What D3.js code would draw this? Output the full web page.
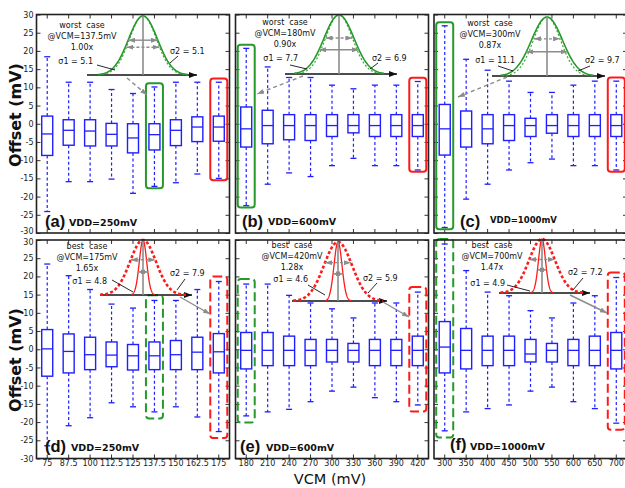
<!DOCTYPE html>
<html>
<head>
<meta charset="utf-8">
<script src="https://cdn.jsdelivr.net/npm/d3@7"></script>
<style>
  body { margin: 0; background: #fff; }
  svg { display: block; font-family: "DejaVu Sans", sans-serif; }
</style>
</head>
<body>
<div id="chart"></div>
<script>
// VCM categories for each VDD column
const vcm250 = ['75', '87.5', '100', '112.5', '125', '137.5', '150', '162.5', '175'];
const vcm600 = ['180', '210', '240', '270', '300', '330', '360', '390', '420'];
const vcm1000 = ['300', '350', '400', '450', '500', '550', '600', '650', '700'];

// box stats per VCM: [whisker high, q3, median, q1, whisker low] (mV)
const boxesA = [
  [18.4, 2.1, -2.8, -8.7, -24.1], [11.4, 1.1, -1.8, -5.9, -15.9], [11.4, 1.1, -2.0, -6.1, -15.9],
  [9.4, 0.1, -2.9, -6.1, -15.2], [8.3, 0.0, -3.9, -8.0, -19.1], [10.1, 0.0, -3.0, -7.2, -17.2],
  [11.4, 1.1, -1.8, -6.0, -16.2], [11.4, 1.9, -0.9, -4.9, -13.8], [11.4, 2.1, -0.9, -4.8, -15.0]
];
const boxesB = [
  [20.7, 4.6, -1.4, -6.4, -22.5], [15.6, 3.7, -0.5, -5.5, -16.6], [12.7, 2.5, -0.5, -4.4, -13.5],
  [12.7, 2.5, -0.5, -4.6, -14.5], [10.6, 2.5, -0.5, -3.5, -11.5], [9.6, 2.5, -0.5, -2.5, -9.5],
  [10.6, 2.5, -0.5, -3.5, -11.5], [10.6, 2.5, -0.5, -3.5, -11.5], [11.6, 2.5, -0.5, -3.5, -12.7]
];
const boxesC = [
  [26.9, 5.3, -1.4, -8.6, -28.5], [17.7, 3.5, -1.4, -6.4, -20.7], [14.7, 2.5, -1.4, -5.5, -16.6],
  [11.7, 2.5, -0.5, -4.6, -12.7], [8.6, 1.5, -0.5, -3.5, -10.7], [8.6, 2.5, -0.5, -2.6, -9.7],
  [10.6, 2.5, -0.5, -3.5, -11.5], [11.7, 2.5, -0.5, -3.5, -11.5], [11.7, 2.5, -0.5, -3.5, -12.7]
];
const boxesD = [
  [23.4, 5.4, 0.1, -7.4, -26.5], [20.2, 4.2, -0.6, -6.5, -21.0], [16.4, 3.3, -1.5, -5.6, -18.8],
  [12.4, 2.0, -1.6, -4.8, -14.7], [11.3, 1.3, -1.8, -5.7, -15.8], [13.4, 2.0, -1.8, -5.6, -17.2],
  [13.4, 2.4, -1.5, -5.6, -15.8], [16.4, 3.3, -0.8, -5.6, -18.6], [18.6, 4.3, -0.7, -6.5, -22.6]
];
const boxesE = [
  [17.9, 4.6, -0.3, -5.4, -18.3], [17.9, 4.6, -0.3, -4.5, -17.2], [14.8, 3.6, -0.3, -4.5, -16.5],
  [12.7, 2.7, -0.3, -4.5, -14.4], [11.1, 2.7, -0.3, -3.5, -11.5], [8.6, 1.6, -0.3, -3.5, -10.4],
  [12.7, 2.7, -0.3, -4.5, -13.3], [12.7, 2.7, -0.3, -4.5, -14.4], [15.7, 3.6, -0.3, -4.5, -15.3]
];
const boxesF = [
  [28.9, 7.6, 0.6, -6.5, -22.4], [21.6, 5.7, -0.3, -5.4, -17.2], [15.7, 3.6, -0.3, -4.5, -16.3],
  [14.7, 3.6, -0.3, -4.5, -15.3], [10.6, 2.7, -1.3, -3.5, -11.5], [8.6, 1.6, -0.3, -3.5, -10.4],
  [12.7, 2.7, -0.3, -4.5, -14.4], [14.7, 3.6, -0.3, -4.5, -16.3], [19.7, 4.6, -0.3, -5.4, -20.3]
];

const yTicks = [-30, -25, -20, -15, -10, -5, 0, 5, 10, 15, 20, 25, 30];

// panel labels and inset annotations
const panelTags = ['(a)', '(b)', '(c)', '(d)', '(e)', '(f)'];
const vddLabels = ['VDD=250mV', 'VDD=600mV', 'VDD=1000mV', 'VDD=250mV', 'VDD=600mV', 'VDD=1000mV'];
const caseLabels = ['worst  case', 'worst  case', 'worst  case', 'best  case', 'best  case', 'best  case'];
const caseVcm = ['@VCM=137.5mV', '@VCM=180mV', '@VCM=300mV', '@VCM=175mV', '@VCM=420mV', '@VCM=700mV'];
const ratios = ['1.00x', '0.90x', '0.87x', '1.65x', '1.28x', '1.47x'];
const sigma1 = [5.1, 7.7, 11.1, 4.8, 4.6, 4.9];
const sigma2 = [5.1, 6.9, 9.7, 7.9, 5.9, 7.2];
const greenIdx = [5, 0, 0, 5, 0, 0];
const redIdx = [8, 8, 8, 8, 8, 8];

const cats = [vcm250, vcm600, vcm1000];
const boxes = [boxesA, boxesB, boxesC, boxesD, boxesE, boxesF];

// layout (pixels)
const W = 625, H = 488;
const colX = [36.5, 235.5, 434], colW = 193;
const rowY = [14.5, 240], rowH = 218.5;
const tagPos = [[45, 227], [242, 227], [460, 227], [45, 452], [240, 452], [450, 450]];
const vddPos = [[69, 226, 9.5], [268, 225, 9.5], [490, 223, 8.5], [71, 451, 9.5], [266, 451, 9.5], [470, 450, 9.5]];

// inset gaussian sketches: cx/top/base of curve, display sigma px, extent (in sigmas),
// height fraction of sigma arrows, text position, sigma label + leader, pointer arrow
const insets = [
  { cx: 143, top: 16, base: 75, ax: [87, 197], sd: [14.5, 13.5], ext: [3.1, 3.3], hf: [0.59, 0.47], tx: 82, ty: 28,
    l1: [93, 64, 97, 65, 115, 70], l2: [170, 54, 178, 56, 170, 63], ptr: [127, 78, 147, 95] },
  { cx: 339, top: 15, base: 74, ax: [285, 397], sd: [15, 13.5], ext: [3.0, 3.3], hf: [0.41, 0.61], tx: 285, ty: 25,
    l1: [298, 61, 290, 65, 307, 69], l2: [372, 61, 378, 63, 370, 69], ptr: [303, 76, 257, 94] },
  { cx: 547, top: 17, base: 76, ax: [492, 605], sd: [15.5, 13.6], ext: [3.0, 3.3], hf: [0.41, 0.63], tx: 490, ty: 26,
    l1: [515, 63, 498, 66, 513, 71], l2: [585, 63, 590, 66, 578, 71], ptr: [507, 77, 458, 97] },
  { cx: 143, top: 240, base: 295, ax: [100, 192], sd: [3.7, 13], ext: [3.2, 3.3], hf: [0.42, 0.64], tx: 87, ty: 249,
    l1: [107, 284, 112, 280, 133, 292], l2: [170, 276, 185, 279, 177, 290], ptr: [180, 297, 210, 314] },
  { cx: 338, top: 242, base: 301, ax: [292, 387], sd: [4, 14], ext: [3.3, 3.2], hf: [0.46, 0.65], tx: 292, ty: 248,
    l1: [308, 282, 308, 285, 325, 295], l2: [363, 281, 377, 283, 368, 293], ptr: [383, 302, 409, 317] },
  { cx: 542, top: 239, base: 293, ax: [499, 590], sd: [3.5, 13], ext: [3.3, 3.2], hf: [0.43, 0.62], tx: 492, ty: 248,
    l1: [505, 286, 507, 285, 530, 291], l2: [568, 275, 583, 278, 573, 290], ptr: [570, 295, 607, 313] }
];

const blue = '#1f1fff', green = '#259a2a', red = '#ff1a1a', gray = '#8c8c8c', ink = '#222';

const svg = d3.select('#chart').append('svg').attr('width', W).attr('height', H);

// arrow heads
const defs = svg.append('defs');
[['arrBlack', '#111', 8, 6], ['arrGray', gray, 7, 5]].forEach(([id, c, l, w]) => {
  defs.append('marker')
    .attr('id', id).attr('markerUnits', 'userSpaceOnUse')
    .attr('markerWidth', l).attr('markerHeight', w)
    .attr('refX', l).attr('refY', w / 2)
    .attr('orient', 'auto-start-reverse')
    .append('path').attr('d', `M0,0 L${l},${w / 2} L0,${w} Z`).attr('fill', c);
});

function drawPanel(i) {
  const col = i % 3, row = Math.floor(i / 3);
  const x0 = colX[col], y0 = rowY[row];
  const x = d3.scaleBand().domain(cats[col]).range([x0, x0 + colW]);
  const y = d3.scaleLinear().domain([-30, 30]).range([y0 + rowH, y0]);
  const cx = d => x(d) + x.bandwidth() / 2;
  const g = svg.append('g');

  // axes with inward ticks on all four sides
  const fmt = d => String(d);
  const axes = [
    [d3.axisLeft(y).tickValues(yTicks).tickFormat(col === 0 ? fmt : ''), `translate(${x0},0)`, 3],
    [d3.axisRight(y).tickValues(yTicks).tickFormat(''), `translate(${x0 + colW},0)`, 3],
    [d3.axisBottom(x).tickFormat(row === 1 ? null : ''), `translate(0,${y0 + rowH})`, 2],
    [d3.axisTop(x).tickFormat(''), `translate(0,${y0})`, 3]
  ];
  axes.forEach(([ax, tr, p], k) => {
    const a = g.append('g').attr('transform', tr)
      .call(ax.tickSizeInner(-4).tickSizeOuter(0).tickPadding(p));
    a.select('.domain').remove();
    a.selectAll('line').attr('stroke', '#333');
    a.selectAll('text').attr('font-size', 8).attr('fill', ink).attr('font-family', '"DejaVu Sans", sans-serif');
    if (k === 0) {
      // keep the -30 / 30 labels of the two rows from running into each other
      a.selectAll('.tick').filter(d => (row === 0 && d === -30) || (row === 1 && d === 30))
        .select('text').attr('dy', row === 0 ? '0.1em' : '0.5em');
    }
  });

  const data = boxes[i].map((d, j) => ({ cat: cats[col][j], hi: d[0], q3: d[1], med: d[2], q1: d[3], lo: d[4] }));
  const bw = 11, cap = 3;

  const b = g.append('g').selectAll('g').data(data).join('g');
  b.append('line').attr('x1', d => cx(d.cat)).attr('x2', d => cx(d.cat))
    .attr('y1', d => y(d.q3)).attr('y2', d => y(d.hi))
    .attr('stroke', blue).attr('stroke-width', 1.2).attr('stroke-dasharray', '3,2.5');
  b.append('line').attr('x1', d => cx(d.cat)).attr('x2', d => cx(d.cat))
    .attr('y1', d => y(d.q1)).attr('y2', d => y(d.lo))
    .attr('stroke', blue).attr('stroke-width', 1.2).attr('stroke-dasharray', '3,2.5');
  ['hi', 'lo'].forEach(k => {
    b.append('line').attr('x1', d => cx(d.cat) - cap).attr('x2', d => cx(d.cat) + cap)
      .attr('y1', d => y(d[k])).attr('y2', d => y(d[k]))
      .attr('stroke', blue).attr('stroke-width', 1.3);
  });
  b.append('rect').attr('x', d => cx(d.cat) - bw / 2).attr('width', bw)
    .attr('y', d => y(d.q3)).attr('height', d => y(d.q1) - y(d.q3))
    .attr('fill', 'none').attr('stroke', blue).attr('stroke-width', 1.4);
  b.append('line').attr('x1', d => cx(d.cat) - bw / 2).attr('x2', d => cx(d.cat) + bw / 2)
    .attr('y1', d => y(d.med)).attr('y2', d => y(d.med))
    .attr('stroke', blue).attr('stroke-width', 1.3);

  // highlight frames around worst/best boxes
  const pad = row === 0 ? [1.0, 0.5] : [1.4, 1.8];
  [[greenIdx[i], green], [redIdx[i], red]].forEach(([j, c]) => {
    const d = data[j];
    g.append('rect')
      .attr('x', cx(d.cat) - 8.5).attr('width', 17)
      .attr('y', y(d.hi + pad[0])).attr('height', y(d.lo - pad[1]) - y(d.hi + pad[0]))
      .attr('rx', 3).attr('fill', 'none').attr('stroke', c).attr('stroke-width', 2)
      .attr('stroke-dasharray', row === 1 ? '9,4' : null);
  });

  drawInset(g, i, row);

  // frame
  g.append('rect').attr('x', x0).attr('y', y0).attr('width', colW).attr('height', rowH)
    .attr('fill', 'none').attr('stroke', '#222').attr('stroke-width', 1.6);

  // panel tag + VDD
  g.append('text').attr('x', tagPos[i][0]).attr('y', tagPos[i][1])
    .attr('font-family', '"Liberation Sans", Arial, sans-serif').attr('font-weight', 'bold')
    .attr('font-size', 16.5).attr('fill', '#111').text(panelTags[i]);
  g.append('text').attr('x', vddPos[i][0]).attr('y', vddPos[i][1])
    .attr('font-weight', 'bold').attr('font-size', vddPos[i][2]).attr('fill', '#111').text(vddLabels[i]);
}

function drawInset(g, i, row) {
  const s = insets[i];
  const ys = d3.scaleLinear().domain([0, 1]).range([s.base, s.top]);
  const gauss = (sd, ext) => d3.range(-ext, ext + 0.001, 0.05).map(t => [s.cx + t * sd, ys(Math.exp(-t * t / 2))]);
  const line = d3.line();
  const c1 = row === 0 ? green : red;

  // baseline arrow
  g.append('line').attr('x1', s.ax[0]).attr('x2', s.ax[1]).attr('y1', s.base).attr('y2', s.base)
    .attr('stroke', '#111').attr('stroke-width', 1.3).attr('marker-end', 'url(#arrBlack)');

  // curve 2 (dashed) and curve 1 (solid)
  g.append('path').attr('d', line(gauss(s.sd[1], s.ext[1]))).attr('fill', 'none')
    .attr('stroke', row === 0 ? '#3aa53a' : red)
    .attr('stroke-width', row === 0 ? 1.2 : 2.6)
    .attr('stroke-dasharray', row === 0 ? '2,2' : '3,2.2');
  g.append('path').attr('d', line(gauss(s.sd[0], s.ext[0]))).attr('fill', 'none')
    .attr('stroke', c1).attr('stroke-width', row === 0 ? 1.6 : 1.3);

  // peak marker
  g.append('line').attr('x1', s.cx).attr('x2', s.cx).attr('y1', s.top).attr('y2', s.base)
    .attr('stroke', gray).attr('stroke-width', 1.6);

  // sigma arrows
  [0, 1].forEach(k => {
    const hw = s.sd[k] * Math.sqrt(-2 * Math.log(s.hf[k]));
    g.append('line').attr('x1', s.cx - hw).attr('x2', s.cx + hw)
      .attr('y1', ys(s.hf[k])).attr('y2', ys(s.hf[k]))
      .attr('stroke', gray).attr('stroke-width', 1.4)
      .attr('stroke-dasharray', k === 1 ? '3,2' : null)
      .attr('marker-start', 'url(#arrGray)').attr('marker-end', 'url(#arrGray)');
  });

  // texts
  const t = g.append('text').attr('text-anchor', 'middle').attr('font-size', 8).attr('fill', '#111')
    .attr('xml:space', 'preserve').style('white-space', 'pre');
  [caseLabels[i], caseVcm[i], ratios[i]].forEach((txt, k) => {
    t.append('tspan').attr('x', s.tx).attr('y', s.ty + k * 11).text(txt);
  });

  [[s.l1, 'σ1 = ' + sigma1[i].toFixed(1), 'end'], [s.l2, 'σ2 = ' + sigma2[i].toFixed(1), 'start']].forEach(([l, txt, anc]) => {
    g.append('text').attr('x', l[0]).attr('y', l[1]).attr('text-anchor', anc)
      .attr('font-size', 8).attr('fill', '#111').text(txt);
    g.append('line').attr('x1', l[2]).attr('y1', l[3]).attr('x2', l[4]).attr('y2', l[5])
      .attr('stroke', '#111').attr('stroke-width', 0.9);
  });

  // pointer to highlighted box
  g.append('line').attr('x1', s.ptr[0]).attr('y1', s.ptr[1]).attr('x2', s.ptr[2]).attr('y2', s.ptr[3])
    .attr('stroke', gray).attr('stroke-width', 1.4)
    .attr('stroke-dasharray', row === 0 ? '4,3' : null)
    .attr('marker-end', 'url(#arrGray)');
}

for (let i = 0; i < 6; i++) drawPanel(i);

// axis titles
[115, 360].forEach(cy => {
  svg.append('text').attr('transform', `translate(21,${cy}) rotate(-90)`)
    .attr('text-anchor', 'middle').attr('font-weight', 'bold').attr('font-size', 16)
    .attr('fill', '#111').text('Offset (mV)');
});
svg.append('text').attr('x', 330).attr('y', 483.5).attr('text-anchor', 'middle')
  .attr('font-size', 14.5).attr('fill', '#111').text('VCM (mV)');
</script>
</body>
</html>
